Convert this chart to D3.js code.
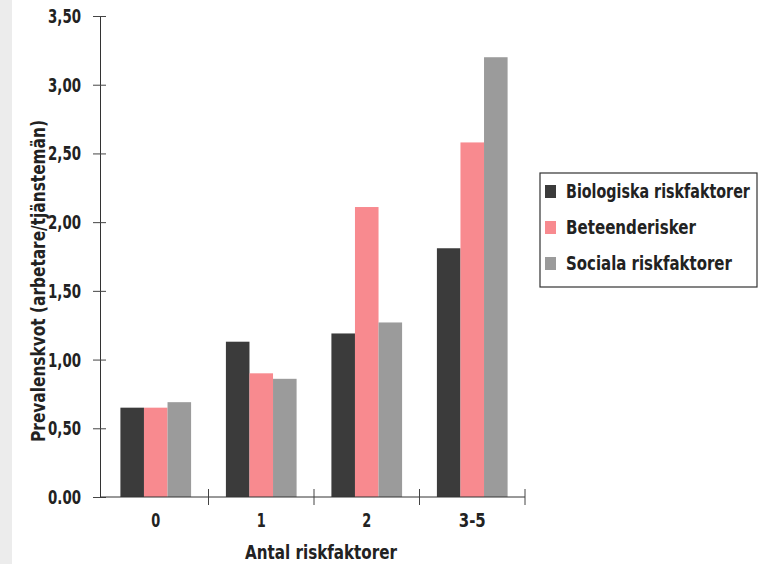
<!DOCTYPE html>
<html><head><meta charset="utf-8">
<script src="https://cdn.jsdelivr.net/npm/d3@7"></script>
<style>
body{margin:0;background:#fff;}
text{font-family:"DejaVu Sans",sans-serif;font-weight:bold;fill:#222;}
</style></head>
<body><svg id="c" width="759" height="564"></svg>
<script>
const categories = ["0","1","2","3-5"];
const seriesNames = ["Biologiska riskfaktorer","Beteenderisker","Sociala riskfaktorer"];
const biologiska = [0.65, 1.13, 1.19, 1.81];
const beteende = [0.65, 0.90, 2.11, 2.58];
const sociala = [0.69, 0.86, 1.27, 3.20];
const yTicks = [0, 0.5, 1, 1.5, 2, 2.5, 3, 3.5];
const colors = ["#3b3b3b","#f88a8f","#9b9b9b"];

const series = [biologiska, beteende, sociala];
const svg = d3.select("#c");
svg.append("rect").attr("x",0).attr("y",0).attr("width",12).attr("height",564).attr("fill","#ececec");

// text placed with horizontal compression (condensed look)
function ctext(parent, str, x, y, size, width, anchor, rot){
  const t = parent.append("text").attr("font-size",size).attr("text-anchor",anchor||"start").text(str);
  const natural = t.node().getComputedTextLength();
  const s = width / natural;
  t.attr("transform", `translate(${x},${y})` + (rot ? ` rotate(${rot})` : "") + ` scale(${s},1)`);
  return t;
}

const x0 = d3.scaleBand().domain(categories).range([103,525]).paddingInner(0.33).paddingOuter(0.165);
const x1 = d3.scaleBand().domain(d3.range(3)).range([0,x0.bandwidth()]);
const y = d3.scaleLinear().domain([0,3.5]).range([497,16]);

// bars
categories.forEach((c,i)=>{
  series.forEach((s,j)=>{
    svg.append("rect")
      .attr("x", x0(c)+x1(j))
      .attr("y", y(s[i]))
      .attr("width", x1.bandwidth())
      .attr("height", y(0)-y(s[i]))
      .attr("fill", colors[j]);
  });
});

// y axis
const fmt = d => d.toFixed(2).replace(".", d===0 ? "." : ",");
const yAxis = svg.append("g").attr("transform","translate(100,0)")
  .call(d3.axisLeft(y).tickValues(yTicks).tickFormat("").tickSize(6));
yAxis.select(".domain").attr("stroke","#333");
yAxis.selectAll(".tick line").attr("x2",6).attr("x1",-7).attr("stroke","#444");
yAxis.selectAll(".tick text").remove();
const yl = svg.append("g");
yTicks.forEach(v => ctext(yl, fmt(v), 81, y(v)+7, 19, 33, "end"));

// x axis
const xAxis = svg.append("g").attr("transform","translate(0,497)")
  .call(d3.axisBottom(x0).tickSize(0).tickFormat(""));
xAxis.select(".domain").attr("stroke","#333").attr("d","M100,0H525");
xAxis.selectAll(".tick text").remove();
const xl = svg.append("g");
categories.forEach(c => ctext(xl, c, x0(c)+x0.bandwidth()/2, 527, 19, c.length>1 ? 27 : 9, "middle"));
const boundaries = [1,2,3,4].map(i => x0(categories[i-1]) + x0.bandwidth() + x0.step()*x0.paddingInner()/2);
boundaries[3] = 525;
svg.append("g").selectAll("line").data(boundaries).join("line")
  .attr("x1",d=>d).attr("x2",d=>d).attr("y1",489).attr("y2",505).attr("stroke","#444");

// axis titles
ctext(svg, "Antal riskfaktorer", 321, 559, 20, 152, "middle");
ctext(svg, "Prevalenskvot  (arbetare/tjänstemän)", 45, 281, 20, 322, "middle", -90);

// legend
const legendW = [184,130,166];
const lg = svg.append("g");
lg.append("rect").attr("x",540).attr("y",173).attr("width",217).attr("height",114)
  .attr("fill","#fff").attr("stroke","#333").attr("stroke-width",1.2);
seriesNames.forEach((n,j)=>{
  const cy = 191 + j*36;
  lg.append("rect").attr("x",545).attr("y",cy-6).attr("width",11).attr("height",13).attr("fill",colors[j]);
  ctext(lg, n, 566, cy+7, 20, legendW[j], "start");
});
</script></body></html>
